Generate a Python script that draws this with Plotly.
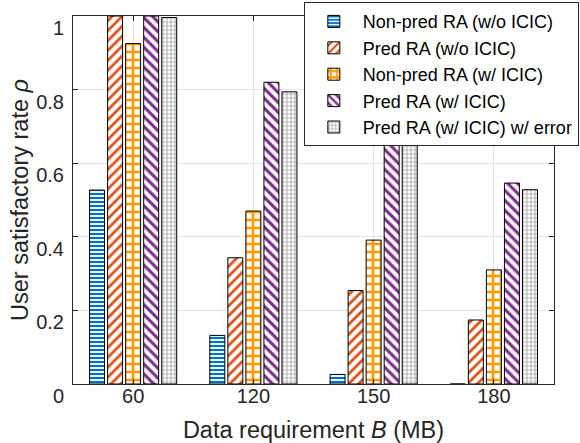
import plotly.graph_objects as go

categories = ["60", "120", "150", "180"]
series_names = [
    "Non-pred RA (w/o ICIC)",
    "Pred RA (w/o ICIC)",
    "Non-pred RA (w/ ICIC)",
    "Pred RA (w/ ICIC)",
    "Pred RA (w/ ICIC) w/ error",
]
nonpred_wo = [0.527, 0.132, 0.026, 0.0]
pred_wo = [1.0, 0.343, 0.254, 0.174]
nonpred_w = [0.925, 0.470, 0.391, 0.310]
pred_w = [1.0, 0.820, 0.682, 0.546]
pred_w_err = [0.996, 0.794, 0.663, 0.528]

y_ticks = [0, 0.2, 0.4, 0.6, 0.8, 1]
x_title = "Data requirement <i>B</i> (MB)"
y_title = "User satisfactory rate <i>ρ</i>"

values = [nonpred_wo, pred_wo, nonpred_w, pred_w, pred_w_err]
patterns = [
    dict(shape="-", fgcolor="#0072BD", bgcolor="white", size=4, solidity=0.55),
    dict(shape="/", fgcolor="#D95319", bgcolor="white", size=7, solidity=0.4),
    dict(shape="+", fgcolor="#FF9900", bgcolor="white", size=8, solidity=0.55),
    dict(shape="\\", fgcolor="#7E2F8E", bgcolor="white", size=7, solidity=0.45),
    dict(shape="+", fgcolor="#b5b5b5", bgcolor="white", size=4, solidity=0.5),
]

fig = go.Figure()
for name, vals, pat in zip(series_names, values, patterns):
    fig.add_trace(go.Bar(
        x=categories, y=vals, name=name,
        marker=dict(color="white",
                    pattern=dict(fillmode="overlay", fgopacity=1, **pat),
                    line=dict(color="black", width=1)),
    ))

font_family = "Liberation Sans, Arial, sans-serif"
axis_color = "#262626"
grid_color = "#e3e3e3"

fig.update_layout(
    width=580, height=443,
    margin=dict(l=73, r=26, t=16, b=59, autoexpand=False),
    paper_bgcolor="white", plot_bgcolor="white",
    font=dict(family=font_family, color=axis_color, size=20),
    barmode="group", bargap=0.25, bargroupgap=0.17,
    showlegend=True,
    legend=dict(
        xref="container", yref="container",
        x=0.998, xanchor="right", y=0.995, yanchor="top",
        bgcolor="white", bordercolor="#262626", borderwidth=1,
        font=dict(size=18, color="black", family=font_family),
        tracegroupgap=0, itemwidth=48,
    ),
    xaxis=dict(
        type="category", range=[-0.5, 3.5],
        showline=True, linecolor=axis_color, linewidth=1, mirror="allticks",
        ticks="inside", ticklen=5, tickcolor=axis_color,
        showgrid=True, gridcolor=grid_color,
        tickfont=dict(size=20), ticklabelstandoff=-6,
        title=dict(text=x_title, font=dict(size=23.5), standoff=17),
    ),
    yaxis=dict(
        range=[0, 1], tickvals=y_ticks,
        showline=True, linecolor=axis_color, linewidth=1, mirror="allticks",
        ticks="inside", ticklen=5, tickcolor=axis_color,
        showgrid=True, gridcolor=grid_color, zeroline=False,
        tickfont=dict(size=20), ticklabelshift=12, ticklabelstandoff=4,
        ticklabeloverflow="allow",
    ),
    annotations=[dict(
        text=y_title, xref="paper", yref="paper", x=0, y=0.5,
        xshift=-53, xanchor="center", yanchor="middle", textangle=-90,
        showarrow=False, font=dict(size=23.5, color=axis_color),
    )],
)

fig.write_html("out.html", config={"displayModeBar": False},
               post_script="document.body.style.margin='0';")
